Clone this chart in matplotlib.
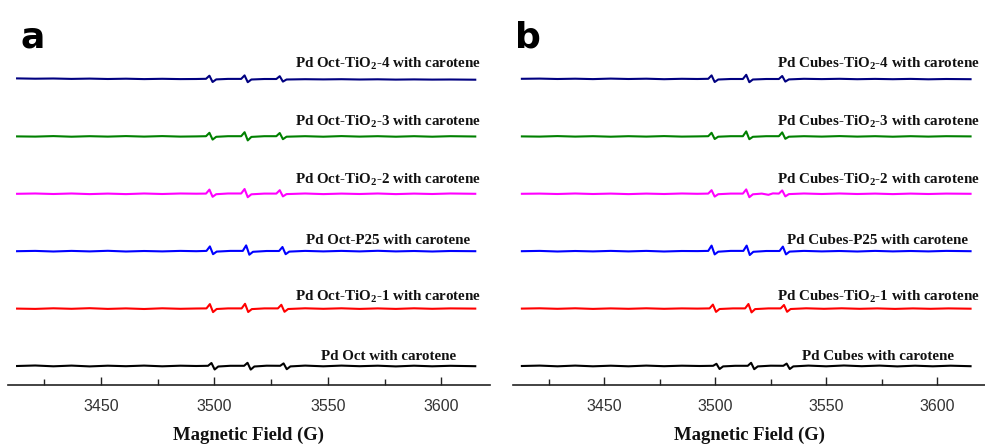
import matplotlib
matplotlib.use("Agg")
import matplotlib.pyplot as plt
from matplotlib.ticker import MultipleLocator

# ---------------- data ----------------
# intensities in arbitrary units (relative to each trace baseline)
XTICKS = [3450, 3500, 3550, 3600]

# Panel a : Pd Oct
oct_black_x = [3413, 3421, 3429, 3437, 3445, 3453, 3461, 3469, 3477, 3485, 3492,
               3497.2, 3498.7, 3500.1, 3501.7, 3507, 3513.1, 3514.6, 3516.0, 3517.6, 3523,
               3529.0, 3530.5, 3531.9, 3533.5, 3540, 3548, 3556, 3564, 3572, 3580, 3588, 3596, 3604, 3615]
oct_black_y = [0.0, 0.5, -0.3, 0.4, -0.4, 0.3, -0.2, 0.4, -0.3, 0.3, 0.0,
               0.2, 3.0, -3.5, -0.5, 0.2, 0.2, 3.2, -3.6, -0.5, 0.3,
               0.2, 2.6, -3.2, -0.4, 0.4, -0.3, 0.4, -0.2, 0.3, -0.4, 0.3, -0.3, 0.2, -0.2]

oct_red_x = [3413, 3421, 3429, 3437, 3445, 3453, 3461, 3469, 3477, 3485, 3492,
             3496.5, 3498.0, 3499.4, 3501.0, 3506, 3512.0, 3513.5, 3514.9, 3516.5, 3522,
             3528.0, 3529.5, 3530.9, 3532.5, 3540, 3548, 3556, 3564, 3572, 3580, 3588, 3596, 3604, 3615]
oct_red_y = [0.0, -0.3, 0.3, -0.2, 0.4, -0.3, 0.2, -0.4, 0.3, -0.2, 0.1,
             0.2, 4.5, -3.5, -0.4, 0.2, 0.2, 4.8, -3.4, -0.5, 0.2,
             0.2, 3.8, -3.2, -0.4, 0.3, -0.2, 0.3, -0.3, 0.2, -0.3, 0.3, -0.2, 0.2, 0.0]

oct_blue_x = [3413, 3421, 3429, 3437, 3445, 3453, 3461, 3469, 3477, 3485, 3492,
              3496.5, 3498.0, 3499.4, 3501.0, 3507, 3512.5, 3514.0, 3515.4, 3517.0, 3523,
              3528.5, 3530.0, 3531.4, 3533.0, 3540, 3548, 3556, 3564, 3572, 3580, 3588, 3596, 3604, 3615]
oct_blue_y = [0.0, 0.3, -0.3, 0.3, -0.2, 0.4, -0.3, 0.2, -0.2, 0.3, 0.0,
              0.3, 4.8, -3.0, -0.4, 0.3, 0.3, 5.8, -3.5, -0.6, 0.2,
              0.2, 4.2, -3.0, -0.4, 0.3, -0.2, 0.3, -0.2, 0.4, -0.2, 0.2, -0.3, 0.2, 0.0]

oct_magenta_x = [3413, 3421, 3429, 3437, 3445, 3453, 3461, 3469, 3477, 3485, 3492,
                 3496.3, 3497.8, 3499.2, 3500.8, 3506, 3511.8, 3513.3, 3514.7, 3516.3, 3522,
                 3527.3, 3528.8, 3530.2, 3531.8, 3540, 3548, 3556, 3564, 3572, 3580, 3588, 3596, 3604, 3615]
oct_magenta_y = [0.0, 0.3, -0.2, 0.3, -0.3, 0.2, -0.3, 0.3, -0.2, 0.3, 0.1,
                 0.2, 4.2, -3.0, -0.4, 0.3, 0.3, 4.8, -3.4, -0.5, 0.2,
                 0.2, 3.6, -2.6, -0.3, 0.3, -0.3, 0.2, -0.2, 0.3, -0.3, 0.2, -0.2, 0.3, 0.0]

oct_green_x = [3413, 3421, 3429, 3437, 3445, 3453, 3461, 3469, 3477, 3485, 3492,
               3496.3, 3497.8, 3499.2, 3500.8, 3506, 3511.8, 3513.3, 3514.7, 3516.3, 3522,
               3527.3, 3528.8, 3530.2, 3531.8, 3540, 3548, 3556, 3564, 3572, 3580, 3588, 3596, 3604, 3615]
oct_green_y = [0.0, -0.2, 0.3, -0.3, 0.2, -0.2, 0.3, -0.2, 0.3, -0.2, 0.0,
               0.2, 3.6, -3.2, -0.4, 0.2, 0.2, 4.2, -4.0, -0.5, 0.2,
               0.2, 3.4, -2.8, -0.3, 0.2, -0.3, 0.3, -0.2, 0.2, -0.3, 0.2, -0.3, 0.2, -0.1]

oct_navy_x = [3413, 3421, 3429, 3437, 3445, 3453, 3461, 3469, 3477, 3485, 3492,
              3496.3, 3497.8, 3499.2, 3500.8, 3506, 3511.8, 3513.3, 3514.7, 3516.3, 3522,
              3527.3, 3528.8, 3530.2, 3531.8, 3540, 3548, 3556, 3564, 3572, 3580, 3588, 3596, 3604, 3615]
oct_navy_y = [0.6, 0.3, 0.5, 0.1, 0.4, 0.0, 0.3, -0.1, 0.2, -0.1, 0.0,
              0.2, 3.3, -3.0, -0.4, 0.1, 0.1, 3.6, -3.2, -0.5, 0.0,
              0.0, 2.8, -2.6, -0.5, -0.2, -0.4, -0.2, -0.5, -0.3, -0.6, -0.4, -0.6, -0.5, -0.7]

# Panel b : Pd Cubes
cub_black_x = [3413, 3421, 3429, 3437, 3445, 3453, 3461, 3469, 3477, 3485, 3493,
               3499.1, 3500.6, 3502.0, 3503.6, 3509, 3514.7, 3516.2, 3517.6, 3519.2, 3525,
               3530.7, 3532.2, 3533.6, 3535.2, 3542, 3550, 3558, 3566, 3574, 3582, 3590, 3598, 3606, 3615]
cub_black_y = [0.0, 0.4, -0.3, 0.4, -0.3, 0.3, -0.3, 0.4, -0.2, 0.3, 0.0,
               0.2, 2.2, -3.0, -0.4, 0.2, 0.2, 3.2, -3.2, -0.4, 0.3,
               0.2, 2.4, -3.0, -0.4, 0.4, -0.3, 0.5, -0.2, 0.4, -0.4, 0.3, -0.3, 0.3, -0.2]

cub_red_x = [3413, 3421, 3429, 3437, 3445, 3453, 3461, 3469, 3477, 3485, 3492,
             3497.5, 3499.0, 3500.4, 3502.0, 3508, 3513.5, 3515.0, 3516.4, 3518.0, 3524,
             3529.5, 3531.0, 3532.4, 3534.0, 3541, 3549, 3557, 3565, 3573, 3581, 3589, 3597, 3605, 3615]
cub_red_y = [0.0, 0.3, -0.2, 0.3, -0.3, 0.2, -0.2, 0.3, -0.2, 0.2, 0.0,
             0.2, 4.0, -3.3, -0.4, 0.2, 0.2, 4.6, -3.8, -0.5, 0.2,
             0.2, 3.6, -3.2, -0.4, 0.3, -0.2, 0.3, -0.2, 0.2, -0.3, 0.2, -0.2, 0.2, -0.1]

cub_blue_x = [3413, 3421, 3429, 3437, 3445, 3453, 3461, 3469, 3477, 3485, 3492,
              3496.9, 3498.4, 3499.8, 3501.4, 3507, 3512.7, 3514.2, 3515.6, 3517.2, 3523,
              3529.0, 3530.5, 3531.9, 3533.5, 3540, 3548, 3556, 3564, 3572, 3580, 3588, 3596, 3604, 3615]
cub_blue_y = [0.0, 0.3, -0.3, 0.2, -0.2, 0.3, -0.2, 0.3, -0.3, 0.2, 0.1,
              0.3, 5.6, -3.2, -0.5, 0.3, 0.3, 5.6, -3.8, -0.6, 0.2,
              0.2, 4.6, -3.2, -0.4, 0.3, -0.2, 0.2, -0.3, 0.3, -0.2, 0.2, -0.2, 0.3, 0.0]

cub_magenta_x = [3413, 3421, 3429, 3437, 3445, 3453, 3461, 3469, 3477, 3485, 3492,
                 3496.9, 3498.4, 3499.8, 3501.4, 3507, 3512.5, 3514.0, 3515.4, 3517.0, 3521, 3524, 3526,
                 3528.7, 3530.2, 3531.6, 3533.2, 3540, 3548, 3556, 3564, 3572, 3580, 3588, 3596, 3604, 3615]
cub_magenta_y = [0.0, 0.2, -0.2, 0.3, -0.2, 0.2, -0.3, 0.2, -0.2, 0.3, 0.0,
                 0.2, 3.6, -2.8, -0.4, 0.2, 0.2, 4.4, -3.4, -0.5, 0.2, -1.0, 0.4,
                 0.2, 3.4, -2.6, -0.3, 0.3, -0.2, 0.3, -0.2, 0.2, -0.3, 0.2, -0.2, 0.2, 0.0]

cub_green_x = [3413, 3421, 3429, 3437, 3445, 3453, 3461, 3469, 3477, 3485, 3492,
               3496.9, 3498.4, 3499.8, 3501.4, 3507, 3512.5, 3514.0, 3515.4, 3517.0, 3523,
               3528.7, 3530.2, 3531.6, 3533.2, 3540, 3548, 3556, 3564, 3572, 3580, 3588, 3596, 3604, 3615]
cub_green_y = [0.0, -0.2, 0.3, -0.2, 0.2, -0.3, 0.2, -0.2, 0.3, -0.2, 0.0,
               0.2, 3.6, -2.6, -0.3, 0.2, 0.2, 5.0, -2.8, -0.4, 0.2,
               0.2, 4.0, -2.4, -0.3, 0.2, -0.2, 0.3, -0.2, 0.2, -0.3, 0.2, -0.2, 0.2, 0.0]

cub_navy_x = [3413, 3421, 3429, 3437, 3445, 3453, 3461, 3469, 3477, 3485, 3492,
              3496.9, 3498.4, 3499.8, 3501.4, 3507, 3512.5, 3514.0, 3515.4, 3517.0, 3523,
              3528.7, 3530.2, 3531.6, 3533.2, 3540, 3548, 3556, 3564, 3572, 3580, 3588, 3596, 3604, 3615]
cub_navy_y = [0.2, 0.4, 0.0, 0.3, -0.1, 0.4, 0.0, 0.3, -0.2, 0.2, 0.0,
              0.2, 3.6, -3.0, -0.5, 0.0, 0.0, 4.2, -3.2, -0.5, 0.0,
              0.0, 3.0, -2.6, -0.4, 0.2, -0.1, 0.2, -0.2, 0.1, -0.2, 0.1, -0.3, 0.0, -0.2]

oct_labels = ["Pd Oct with carotene",
              r"Pd Oct-TiO$_{2}$-1 with carotene",
              "Pd Oct-P25 with carotene",
              r"Pd Oct-TiO$_{2}$-2 with carotene",
              r"Pd Oct-TiO$_{2}$-3 with carotene",
              r"Pd Oct-TiO$_{2}$-4 with carotene"]
cub_labels = ["Pd Cubes with carotene",
              r"Pd Cubes-TiO$_{2}$-1 with carotene",
              "Pd Cubes-P25 with carotene",
              r"Pd Cubes-TiO$_{2}$-2 with carotene",
              r"Pd Cubes-TiO$_{2}$-3 with carotene",
              r"Pd Cubes-TiO$_{2}$-4 with carotene"]

colors = ["#000000", "#ff0000", "#0000ff", "#ff00ff", "#008000", "#000080"]

# ---------------- style / layout ----------------
W, H = 985, 446
plt.rcParams["mathtext.default"] = "regular"
fig = plt.figure(figsize=(W / 100, H / 100), dpi=100)

SPACING = 57.4
label_dy = [6.0, 7.8, 7.5, 9.5, 11.0, 10.7]

def make_panel(rect, xs, ys, labels, label_x, letter, letter_x):
    ax = fig.add_axes(rect)
    for k, (x, y) in enumerate(zip(xs, ys)):
        off = k * SPACING
        ax.plot(x, [v + off for v in y], color=colors[k], lw=1.5,
                solid_joinstyle="round")
        ax.text(label_x, off + label_dy[k], labels[k], ha="center", va="baseline",
                family="Liberation Serif", fontweight="bold", fontsize=10.8,
                color="#111111")
    ax.set_xlim(3409, 3621.5)
    ax.set_ylim(-19, 316)
    for s in ("left", "right", "top"):
        ax.spines[s].set_visible(False)
    ax.spines["bottom"].set_linewidth(1.2)
    ax.spines["bottom"].set_color("#222222")
    ax.set_yticks([])
    ax.set_xticks(XTICKS)
    ax.xaxis.set_minor_locator(MultipleLocator(25))
    ax.tick_params(axis="x", which="major", direction="in", length=6, width=1,
                   color="#222222", pad=10, labelsize=11.5, labelcolor="#333333")
    ax.tick_params(axis="x", which="minor", direction="in", length=4, width=1,
                   color="#222222")
    for t in ax.get_xticklabels():
        t.set_family("Liberation Sans")
    ax.patch.set_alpha(0)
    cx = rect[0] + rect[2] / 2
    fig.text(cx, 1 - 435 / H, "Magnetic Field (G)", ha="center", va="center",
             family="Liberation Serif", fontweight="bold", fontsize=13.4,
             color="#111111")
    fig.text(letter_x / W, 1 - 48 / H, letter, ha="left", va="baseline",
             family="DejaVu Sans", fontweight="bold", fontsize=26, color="black")
    return ax

bottom = (H - 385) / H
height = (385 - 50) / H
make_panel([8 / W, bottom, (490 - 8) / W, height],
           [oct_black_x, oct_red_x, oct_blue_x, oct_magenta_x, oct_green_x, oct_navy_x],
           [oct_black_y, oct_red_y, oct_blue_y, oct_magenta_y, oct_green_y, oct_navy_y],
           oct_labels, 3576.6, "a", 20)
make_panel([513 / W, bottom, (985 - 513) / W, height],
           [cub_black_x, cub_red_x, cub_blue_x, cub_magenta_x, cub_green_x, cub_navy_x],
           [cub_black_y, cub_red_y, cub_blue_y, cub_magenta_y, cub_green_y, cub_navy_y],
           cub_labels, 3573.3, "b", 515)

fig.savefig("out.png", dpi=100)
